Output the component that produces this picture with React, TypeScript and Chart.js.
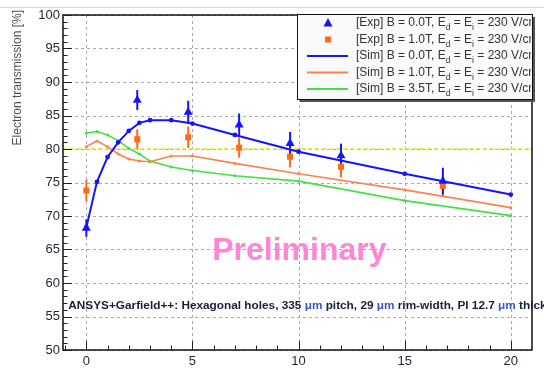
import React, { useEffect, useRef } from 'react';
import { Chart, registerables } from 'chart.js';
Chart.register(...registerables);

// ---- data ----
const simX = [0, 0.5, 1, 1.5, 2, 2.5, 3, 4, 5, 7, 10, 15, 20];
const simB00 = [68.3, 75.1, 78.8, 81.0, 82.7, 83.9, 84.3, 84.3, 83.8, 82.1, 79.6, 76.3, 73.2];
const simB10 = [80.35, 81.2, 80.35, 79.25, 78.5, 78.2, 78.1, 78.95, 78.95, 77.85, 76.3, 73.9, 71.25];
const simB35 = [82.35, 82.6, 82.1, 81.25, 80.1, 79.25, 78.2, 77.3, 76.8, 76.0, 75.2, 72.3, 70.05];

const expX = [0, 2.4, 4.8, 7.2, 9.6, 12, 16.8];
const expB00 = [68.2, 87.3, 85.5, 83.6, 80.85, 79.0, 75.2];
const expB00Err = [1.3, 1.5, 1.7, 1.7, 1.7, 1.8, 2.0];
const expB10 = [73.8, 81.45, 81.75, 80.2, 78.85, 77.35, 74.5];
const expB10Err = [1.6, 1.5, 1.6, 1.5, 1.6, 1.6, 1.6];

const xTicks = [0, 5, 10, 15, 20];
const yTicks = [50, 55, 60, 65, 70, 75, 80, 85, 90, 95, 100];
const refLevel = 80;
const xMin = -1.1;
const xMax = 21;
const yMin = 50;
const yMax = 100;

const yTitle = 'Electron transmission [%]';
const legendTexts = [
  ['[Exp] B = 0.0T, E', 'd', ' = E', 'i', ' = 230 V/cm'],
  ['[Exp] B = 1.0T, E', 'd', ' = E', 'i', ' = 230 V/cm'],
  ['[Sim] B = 0.0T, E', 'd', ' = E', 'i', ' = 230 V/cm'],
  ['[Sim] B = 1.0T, E', 'd', ' = E', 'i', ' = 230 V/cm'],
  ['[Sim] B = 3.5T, E', 'd', ' = E', 'i', ' = 230 V/cm'],
];
const noteParts = [
  ['ANSYS+Garfield++: Hexagonal holes, 335 ', 0],
  ['\u03bcm', 1],
  [' pitch, 29 ', 0],
  ['\u03bcm', 1],
  [' rim-width, PI 12.7 ', 0],
  ['\u03bcm', 1],
  [' thick', 0],
];
const notePos = { x: -0.85, y: 56.6 };
const prelimText = 'Preliminary';
const prelimPos = { x: 5.93, y: 63.4 };

const BLUE = '#1414ff';
const ORANGE = '#ff6a1a';
const SIM_ORANGE = '#ff8050';
const GREEN = '#44e044';
const YELLOW = '#e6e600';
const FONT = '"Liberation Sans", Arial, Helvetica, sans-serif';

const decorPlugin = {
  id: 'decor',
  beforeDatasetsDraw(chart: any) {
    const { ctx, chartArea: a, scales } = chart;
    const xs = scales.x, ys = scales.y;
    ctx.save();
    // grid
    ctx.strokeStyle = '#aaaaaa';
    ctx.lineWidth = 1;
    ctx.setLineDash([3, 3]);
    xTicks.forEach((v) => {
      const px = Math.round(xs.getPixelForValue(v)) + 0.5;
      ctx.beginPath(); ctx.moveTo(px, a.top); ctx.lineTo(px, a.bottom); ctx.stroke();
    });
    yTicks.forEach((v) => {
      const py = Math.round(ys.getPixelForValue(v)) + 0.5;
      ctx.beginPath(); ctx.moveTo(a.left, py); ctx.lineTo(a.right, py); ctx.stroke();
    });
    ctx.setLineDash([]);
    // error bars
    const drawErr = (ys0: number[], errs: number[], color: string) => {
      ctx.strokeStyle = color;
      ctx.lineWidth = 2;
      expX.forEach((x, i) => {
        const px = xs.getPixelForValue(x);
        ctx.beginPath();
        ctx.moveTo(px, ys.getPixelForValue(ys0[i] - errs[i]));
        ctx.lineTo(px, ys.getPixelForValue(ys0[i] + errs[i]));
        ctx.stroke();
      });
    };
    drawErr(expB10, expB10Err, ORANGE);
    drawErr(expB00, expB00Err, BLUE);
    ctx.restore();
  },
  afterDraw(chart: any) {
    const { ctx, chartArea: a, scales } = chart;
    const xs = scales.x, ys = scales.y;
    ctx.save();
    // top gray line
    ctx.strokeStyle = '#d4d4d4';
    ctx.lineWidth = 1;
    ctx.beginPath(); ctx.moveTo(0, 7.5); ctx.lineTo(544, 7.5); ctx.stroke();

    // frame
    ctx.strokeStyle = '#111';
    ctx.lineWidth = 1.5;
    ctx.strokeRect(a.left, a.top, a.right - a.left, a.bottom - a.top);

    // ticks
    ctx.lineWidth = 1;
    ctx.strokeStyle = '#222';
    for (let v = yMin; v <= yMax; v += 1) {
      const py = Math.round(ys.getPixelForValue(v)) + 0.5;
      const len = v % 5 === 0 ? 9 : 4.5;
      ctx.beginPath(); ctx.moveTo(a.left, py); ctx.lineTo(a.left + len, py); ctx.stroke();
    }
    for (let v = -1; v <= 21; v += 1) {
      const px = Math.round(xs.getPixelForValue(v)) + 0.5;
      if (px < a.left || px > a.right) continue;
      const len = v % 5 === 0 ? 9 : 4.5;
      ctx.beginPath(); ctx.moveTo(px, a.bottom); ctx.lineTo(px, a.bottom - len); ctx.stroke();
    }

    // y title
    ctx.save();
    ctx.translate(18, 10);
    ctx.rotate(-Math.PI / 2);
    ctx.font = `12px ${FONT}`;
    ctx.fillStyle = '#50505e';
    ctx.textAlign = 'right';
    ctx.textBaseline = 'middle';
    ctx.fillText(yTitle, 0, 0);
    ctx.restore();

    // Preliminary
    ctx.font = `bold 32px ${FONT}`;
    ctx.fillStyle = '#ff86d6';
    ctx.textAlign = 'left';
    ctx.textBaseline = 'alphabetic';
    ctx.fillText(prelimText, xs.getPixelForValue(prelimPos.x), ys.getPixelForValue(prelimPos.y));

    // note
    ctx.font = `bold 11.8px ${FONT}`;
    ctx.textBaseline = 'middle';
    let nx = xs.getPixelForValue(notePos.x);
    const ny = ys.getPixelForValue(notePos.y);
    noteParts.forEach(([t, c]: any) => {
      ctx.fillStyle = c ? '#3a55c8' : '#1c1c3c';
      ctx.fillText(t, nx, ny);
      nx += ctx.measureText(t).width;
    });

    // legend
    const lx0 = 297, ly0 = 14, lx1 = 532, ly1 = 99;
    ctx.fillStyle = '#555';
    ctx.fillRect(lx0 + 3, ly0 + 3, lx1 - lx0, ly1 - ly0);
    ctx.fillStyle = '#fafafa';
    ctx.fillRect(lx0, ly0, lx1 - lx0, ly1 - ly0);
    ctx.strokeStyle = '#111';
    ctx.lineWidth = 1;
    ctx.strokeRect(lx0 + 0.5, ly0 + 0.5, lx1 - lx0, ly1 - ly0);
    ctx.save();
    ctx.beginPath();
    ctx.rect(lx0 + 1, ly0 + 1, lx1 - lx0 - 2, ly1 - ly0 - 2);
    ctx.clip();
    legendTexts.forEach((parts, i) => {
      const cy = ly0 + 9 + i * 16.5;
      const mx = 328;
      if (i === 0) {
        ctx.fillStyle = BLUE;
        ctx.beginPath();
        ctx.moveTo(mx, cy - 5); ctx.lineTo(mx + 4.5, cy + 3.5); ctx.lineTo(mx - 4.5, cy + 3.5);
        ctx.closePath(); ctx.fill();
      } else if (i === 1) {
        ctx.fillStyle = ORANGE;
        ctx.fillRect(mx - 3, cy - 3, 6, 6);
      } else {
        ctx.strokeStyle = i === 2 ? BLUE : i === 3 ? SIM_ORANGE : GREEN;
        ctx.lineWidth = i === 2 ? 2 : 1.8;
        ctx.beginPath(); ctx.moveTo(307, cy); ctx.lineTo(348, cy); ctx.stroke();
      }
      let tx = 356;
      ctx.fillStyle = '#333';
      ctx.textAlign = 'left';
      ctx.textBaseline = 'middle';
      parts.forEach((p, j) => {
        const sub = j % 2 === 1;
        ctx.font = sub ? `8.5px ${FONT}` : `12px ${FONT}`;
        ctx.fillText(p, tx, sub ? cy + 5 : cy);
        tx += ctx.measureText(p).width;
      });
    });
    ctx.restore();
    ctx.restore();
  },
};

export default function App() {
  const ref = useRef<HTMLCanvasElement>(null);
  useEffect(() => {
    if (!ref.current) return;
    const pts = (xsArr: number[], ysArr: number[]) => xsArr.map((x, i) => ({ x, y: ysArr[i] }));
    const chart = new Chart(ref.current, {
      type: 'line',
      data: {
        datasets: [
          {
            label: 'exp00', data: pts(expX, expB00), showLine: false,
            pointStyle: 'triangle', pointRadius: 5.2, backgroundColor: BLUE, borderColor: BLUE, borderWidth: 0,
          },
          {
            label: 'exp10', data: pts(expX, expB10), showLine: false,
            pointStyle: 'rect', pointRadius: 4.3, backgroundColor: ORANGE, borderColor: ORANGE, borderWidth: 0,
          },
          {
            label: 'sim00', data: pts(simX, simB00), borderColor: BLUE, backgroundColor: BLUE,
            borderWidth: 2, pointRadius: 2.4, pointBorderWidth: 0, tension: 0,
          },
          {
            label: 'sim10', data: pts(simX, simB10), borderColor: SIM_ORANGE, backgroundColor: SIM_ORANGE,
            borderWidth: 1.6, pointRadius: 1.5, pointBorderWidth: 0, tension: 0,
          },
          {
            label: 'sim35', data: pts(simX, simB35), borderColor: GREEN, backgroundColor: GREEN,
            borderWidth: 1.6, pointRadius: 1.5, pointBorderWidth: 0, tension: 0,
          },
          {
            label: 'ref', data: [{ x: xMin, y: refLevel }, { x: xMax, y: refLevel }],
            borderColor: YELLOW, borderWidth: 1.6, borderDash: [4, 3], pointRadius: 0,
          },
        ],
      },
      options: {
        animation: false,
        responsive: false,
        devicePixelRatio: 1,
        layout: { padding: { top: 15, right: 12, left: 0, bottom: 0 } },
        plugins: { legend: { display: false }, tooltip: { enabled: false } },
        scales: {
          x: {
            type: 'linear', min: xMin, max: xMax,
            afterBuildTicks: (s: any) => { s.ticks = xTicks.map((v) => ({ value: v })); },
            afterFit: (s: any) => { s.height = 22; },
            grid: { display: false, drawTicks: false },
            border: { display: false },
            ticks: { font: { size: 13, family: FONT }, color: '#26263a', padding: 4, maxRotation: 0 },
          },
          y: {
            type: 'linear', min: yMin, max: yMax,
            afterBuildTicks: (s: any) => { s.ticks = yTicks.map((v) => ({ value: v })); },
            afterFit: (s: any) => { s.width = 63; },
            grid: { display: false, drawTicks: false },
            border: { display: false },
            ticks: { font: { size: 13, family: FONT }, color: '#26263a', padding: 3 },
          },
        },
      },
      plugins: [decorPlugin],
    } as any);
    return () => chart.destroy();
  }, []);
  return (
    <div style={{ position: 'absolute', left: 0, top: 0, width: 544, height: 372, background: '#fff' }}>
      <canvas ref={ref} width={544} height={372} style={{ display: 'block' }} />
    </div>
  );
}
